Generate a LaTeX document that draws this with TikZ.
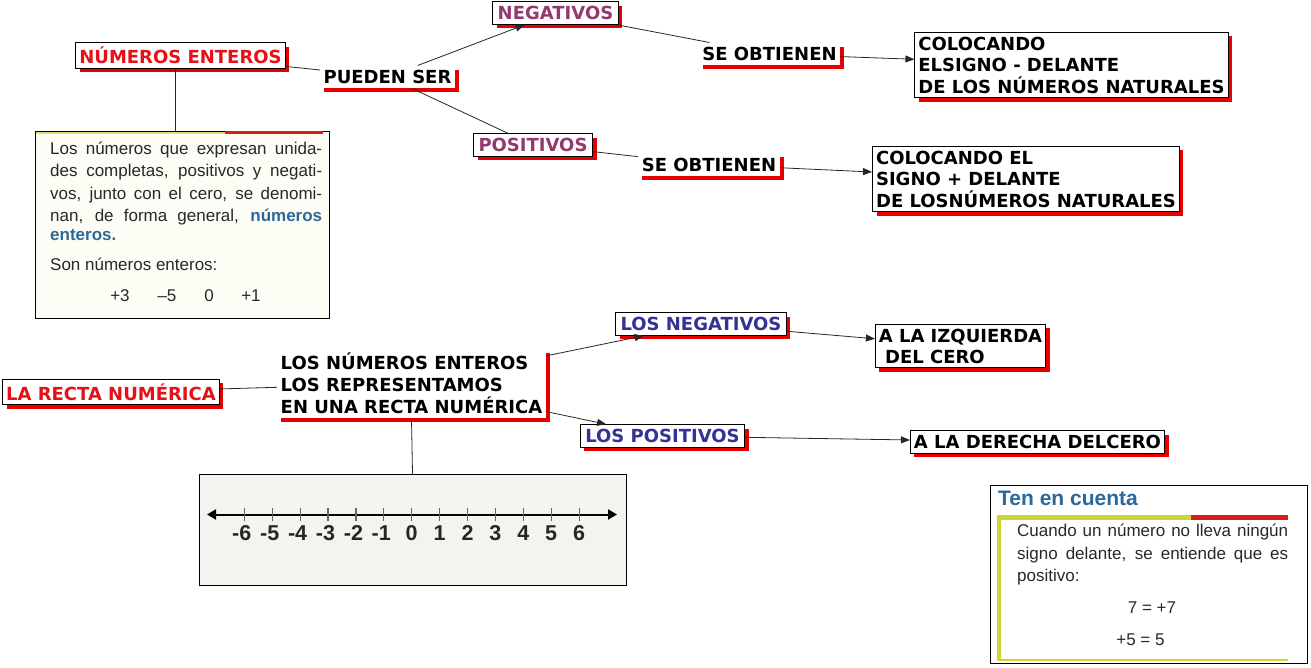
\documentclass[tikz,border=0pt]{standalone}
\usepackage{fontspec}
\setmainfont{DejaVu Sans}
\newfontfamily\arialf{Liberation Sans}
\usetikzlibrary{shadows,arrows.meta}
\definecolor{shred}{RGB}{230,0,0}
\definecolor{txred}{RGB}{232,16,24}
\definecolor{purp}{RGB}{146,58,110}
\definecolor{navy}{RGB}{51,51,150}
\definecolor{tblue}{RGB}{43,104,156}
\definecolor{ygreen}{RGB}{205,214,50}
\definecolor{bred}{RGB}{214,30,30}
\definecolor{gtext}{RGB}{40,40,40}
\definecolor{insbg}{RGB}{253,253,246}
\definecolor{nlbg}{RGB}{243,243,239}
\tikzset{
 lbl/.style={font=\fontsize{18}{22}\selectfont\bfseries, fill=white, inner xsep=3.5pt, inner ysep=4.5pt,
   general shadow={shadow xshift=4pt, shadow yshift=-4pt, fill=shred}},
 boxed/.style={lbl, draw=black, line width=1pt},
 wideboxed/.style={boxed, inner xsep=5pt},
 conn/.style={draw=black!85, line width=0.8pt},
 arr/.style={conn, -{Triangle[length=9pt,width=7pt]}},
 bodytxt/.style={font=\arialf\fontsize{17}{22}\selectfont, text=gtext, inner sep=0pt, anchor=base west},
 numlbl/.style={font=\arialf\fontsize{21.5}{22}\selectfont\bfseries, text=black!85, inner sep=0pt, anchor=base},
}
\begin{document}
\begin{tikzpicture}[x=1pt,y=-1pt]
\useasboundingbox (0,0) rectangle (1311,667);

% ---------- top map ----------
\node[boxed, text=txred] (ne) at (180.5,55.5) {NÚMEROS ENTEROS};
\node[lbl] (ps) at (387.5,77) {PUEDEN SER};
\node[wideboxed, text=purp] (neg) at (555.5,13) {NEGATIVOS};
\node[lbl] (so1) at (769.5,54) {SE OBTIENEN};
\node[boxed, align=left, font=\fontsize{18}{21.5}\selectfont\bfseries] (col1) at (1071.5,65)
  {COLOCANDO\\ELSIGNO - DELANTE\\DE LOS NÚMEROS NATURALES};
\node[wideboxed, text=purp] (pos) at (533,145) {POSITIVOS};
\node[lbl] (so2) at (709,164.5) {SE OBTIENEN};
\node[boxed, align=left, font=\fontsize{18}{21.5}\selectfont\bfseries] (col2) at (1026,179)
  {COLOCANDO EL\\SIGNO + DELANTE\\DE LOSNÚMEROS NATURALES};

% inset definition box
\node[draw=black, line width=1pt, fill=insbg, minimum width=294pt, minimum height=187pt,
  anchor=north west, inner sep=0pt] (ins) at (35,131) {};
\draw[ygreen!70, line width=2pt] (36,133) -- (225,133);
\draw[bred, line width=3pt] (225,132.5) -- (323,132.5);
\node[bodytxt] (in1) at (50,154) {\makebox[272pt][s]{Los números que expresan unida-}};
\node[bodytxt] (in2) at (50,176.5) {\makebox[272pt][s]{des completas, positivos y negati-}};
\node[bodytxt] (in3) at (50,199) {\makebox[272pt][s]{vos, junto con el cero, se denomi-}};
\node[bodytxt] (in4) at (50,221) {\makebox[272pt][s]{nan, de forma general, \textcolor{tblue}{\bfseries números}}};
\node[bodytxt] (in5) at (50,240) {\textcolor{tblue}{\bfseries enteros.}};
\node[bodytxt] (in6) at (50,270.5) {Son números enteros:};
\node[bodytxt, anchor=base] (nA) at (120,301) {+3};
\node[bodytxt, anchor=base] (nB) at (167,301) {–5};
\node[bodytxt, anchor=base] (nC) at (209,301) {0};
\node[bodytxt, anchor=base] (nD) at (251,301) {+1};

% top connectors
\draw[conn] (ne) -- (ps);
\draw[conn] (ne.250) -- (ins.north -| ne.250);
\draw[arr] (ps) -- (neg);
\draw[conn] (ps) -- (pos);
\draw[conn] (neg) -- (so1);
\draw[arr] (so1) -- (col1);
\draw[conn] (pos) -- (so2);
\draw[arr] (so2) -- (col2);

% ---------- bottom map ----------
\node[boxed, text=txred] (lrn) at (111,392) {LA RECTA NUMÉRICA};
\node[lbl, align=left, font=\fontsize{18}{22}\selectfont\bfseries] (lne) at (411.5,383.5)
  {LOS NÚMEROS ENTEROS\\LOS REPRESENTAMOS\\EN UNA RECTA NUMÉRICA};
\node[wideboxed, text=navy] (lneg) at (701,324) {LOS NEGATIVOS};
\node[boxed, align=left, font=\fontsize{18}{21}\selectfont\bfseries] (izq) at (960.5,346)
  {A LA IZQUIERDA\\\ DEL CERO};
\node[wideboxed, text=navy] (lpos) at (662.5,436) {LOS POSITIVOS};
\node[boxed] (der) at (1037.5,442) {A LA DERECHA DELCERO};

% number line picture
\node[draw=black, line width=1pt, fill=nlbg, minimum width=427pt, minimum height=111pt,
  inner sep=0pt] (nl) at (412.5,530) {};
\draw[line width=2pt, {Triangle[length=9pt,width=10pt]}-{Triangle[length=9pt,width=10pt]}]
  (207,514.5) -- (617,514.5);
\foreach \k in {-6,...,6}{
  \draw[black!60, line width=1.2pt] (411.7+27.9*\k,508) -- (411.7+27.9*\k,521);
}
\foreach \k in {-6,...,-1}{
  \node[numlbl] (lb\k) at (409.2+27.9*\k,540) {-\the\numexpr-\k\relax};
}
\foreach \k in {0,...,6}{
  \node[numlbl] (lb\k) at (411.7+27.9*\k,540) {\k};
}

% bottom connectors
\draw[conn] (lrn) -- (lne);
\draw[arr] (lne) -- (lneg);
\draw[arr] (lne) -- (lpos);
\draw[arr] (lneg) -- (izq);
\draw[arr] (lpos) -- (der);
\draw[conn] (lne.south) -- (nl.north);

% ---------- Ten en cuenta ----------
\node[draw=black, line width=1pt, fill=white, minimum width=317pt, minimum height=178pt,
  anchor=north west, inner sep=0pt] (ten) at (990,485) {};
\node[font=\arialf\fontsize{21}{24}\selectfont\bfseries, text=tblue, inner sep=0pt, anchor=base west]
  (ttl) at (998,505) {Ten en cuenta};
\fill[ygreen] (996.5,515) rectangle (1190.5,519.5);
\fill[bred] (1190.5,515) rectangle (1287.5,519.5);
\fill[ygreen] (996.5,515) rectangle (1001,661);
\fill[ygreen] (996.5,658.5) rectangle (1287.5,661);
\node[bodytxt] (t1) at (1017,536.5) {\makebox[271pt][s]{Cuando un número no lleva ningún}};
\node[bodytxt] (t2) at (1017,559) {\makebox[271pt][s]{signo delante, se entiende que es}};
\node[bodytxt] (t3) at (1017,581.5) {positivo:};
\node[bodytxt, anchor=base] (t4) at (1152,613) {7 = +7};
\node[bodytxt, anchor=base] (t5) at (1140.5,645) {+5 = 5};
\end{tikzpicture}
\end{document}
